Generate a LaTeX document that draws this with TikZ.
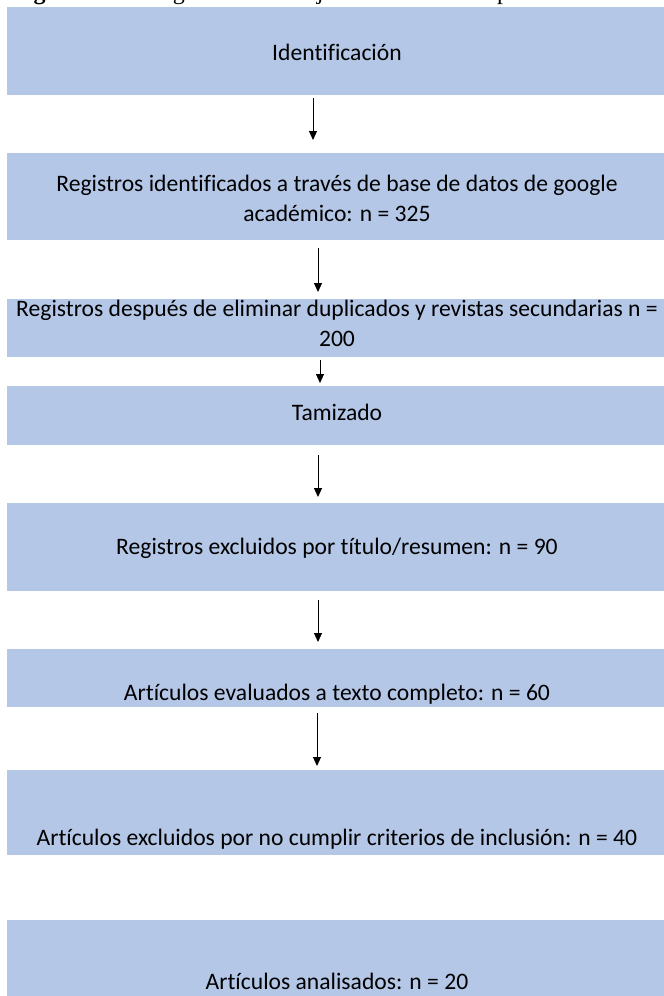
\documentclass[tikz,border=0pt]{standalone}
\usepackage{fontspec}
\setmainfont{Carlito}[Ligatures=NoCommon]
\newfontfamily\capfont{Liberation Serif}
\usetikzlibrary{arrows.meta}
\definecolor{boxblue}{HTML}{B4C7E7}
\tikzset{
  box/.style={fill=boxblue, draw=none, minimum width=660pt, minimum height=#1, inner sep=0pt, outer sep=0pt, anchor=north},
  lbl/.style={font=\fontsize{23.6}{30}\selectfont, inner sep=0pt, align=center},
  captxt/.style={font=\capfont\fontsize{24}{28}\selectfont, inner sep=0pt, anchor=base west},
  arr/.style={-{Triangle[length=9pt,width=8pt]}, line width=1pt}
}
\begin{document}
\begin{tikzpicture}[x=1pt,y=-1pt]
\useasboundingbox (0,0) rectangle (664,996);
\begin{scope}
\clip (0,0) rectangle (664,996);
% clipped caption
\node[captxt] (c1) at (12,-1) {\bfseries Figura 1.};
\node[captxt] (c2) at (138,-1) {Diagrama};
\node[captxt] (c3) at (250,-1) {de};
\node[captxt] (c4) at (290,-1) {flujo};
\node[captxt] (c5) at (400,-1) {del};
\node[captxt] (c6) at (497,-1) {proceso};
% boxes
\node[box=88pt] (b1) at (337,7) {};
\node[box=87pt] (b2) at (337,153) {};
\node[box=58pt] (b3) at (337,299) {};
\node[box=59pt] (b4) at (337,386) {};
\node[box=88pt] (b5) at (337,503) {};
\node[box=58pt] (b6) at (337,649) {};
\node[box=85pt] (b7) at (337,770) {};
\node[box=90pt] (b8) at (337,920) {};
% labels
\node[lbl, anchor=base] (t1) at (337,60) {Identificación};
\node[lbl] (t2) at (337,198) {Registros identificados a través de base de datos de google\\académico: n = 325};
\node[lbl] (t3) at (337,323) {Registros después de eliminar duplicados y revistas secundarias n =\\200};
\node[lbl, anchor=base] (t4) at (337,420) {Tamizado};
\node[lbl, anchor=base] (t5) at (337,554) {Registros excluidos por título/resumen: n = 90};
\node[lbl, anchor=base] (t6) at (337,700) {Artículos evaluados a texto completo: n = 60};
\node[lbl, anchor=base] (t7) at (337,845) {Artículos excluidos por no cumplir criterios de inclusión: n = 40};
\node[lbl, anchor=base] (t8) at (337,989) {Artículos analisados: n = 20};
% arrows
\draw[arr, shorten <=3pt, shorten >=13pt] ([xshift=-24pt]b1.south) -- ([xshift=-24pt]b2.north);
\draw[arr, shorten <=8pt, shorten >=7pt] ([xshift=-19pt]b2.south) -- ([xshift=-19pt]b3.north);
\draw[arr, shorten <=3pt, shorten >=3pt] ([xshift=-17pt]b3.south) -- ([xshift=-17pt]b4.north);
\draw[arr, shorten <=10pt, shorten >=6pt] ([xshift=-19pt]b4.south) -- ([xshift=-19pt]b5.north);
\draw[arr, shorten <=9pt, shorten >=7pt] ([xshift=-19pt]b5.south) -- ([xshift=-19pt]b6.north);
\draw[arr, shorten <=6pt, shorten >=4pt] ([xshift=-20pt]b6.south) -- ([xshift=-20pt]b7.north);
\end{scope}
\end{tikzpicture}
\end{document}
